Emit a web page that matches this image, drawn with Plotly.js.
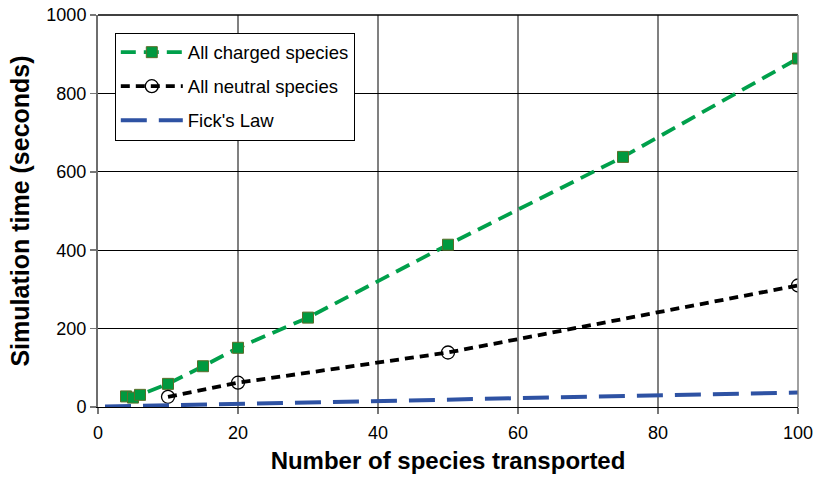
<!DOCTYPE html>
<html>
<head>
<meta charset="utf-8">
<script src="https://cdn.plot.ly/plotly-3.0.1.min.js"></script>
<style>
  html, body { margin: 0; padding: 0; background: #fff; }
  #chart { width: 815px; height: 482px; }
</style>
</head>
<body>
<div id="chart"></div>
<script>
// Number of transported species vs. run time for each transport model
const chargedX = [4, 5, 6, 10, 15, 20, 30, 50, 75, 100];
const chargedY = [27, 24, 31, 59, 104, 151, 228, 414, 638, 889];

const neutralX = [10, 20, 50, 100];
const neutralY = [26, 62, 139, 310];

const fickX = [1, 20, 50, 80, 100];
const fickY = [1, 8, 20, 31, 37];

const xTicks = [0, 20, 40, 60, 80, 100];
const yTicks = [0, 200, 400, 600, 800, 1000];

const font = 'Liberation Sans, Arial, sans-serif';

const traces = [
  {
    name: 'All charged species',
    legendgroup: 'a',
    x: chargedX, y: chargedY,
    mode: 'lines+markers',
    line: { color: '#00a04b', width: 3.8, dash: '15px,8px' },
    marker: { symbol: 'square', size: 11, color: '#00993f',
              line: { color: '#5a6e2a', width: 1 } }
  },
  {
    name: 'All neutral species',
    legendgroup: 'b',
    x: neutralX, y: neutralY,
    mode: 'lines+markers',
    line: { color: '#000000', width: 3.8, dash: '9px,6px' },
    marker: { symbol: 'circle', size: 13, color: 'rgba(255,255,255,0)',
              line: { color: '#000000', width: 1.3 } }
  },
  {
    name: "Fick's Law",
    legendgroup: 'c',
    x: fickX, y: fickY,
    mode: 'lines',
    line: { color: '#2e52a3', width: 4, dash: '26px,12px' }
  }
];

const layout = {
  width: 815, height: 482,
  margin: { l: 98, r: 17, t: 15, b: 75 },
  paper_bgcolor: '#ffffff',
  plot_bgcolor: '#ffffff',
  font: { family: font, size: 18, color: '#000' },
  showlegend: true,
  legend: {
    x: 0.024, y: 0.955, xanchor: 'left', yanchor: 'top',
    bgcolor: '#ffffff', bordercolor: '#000000', borderwidth: 1,
    font: { family: font, size: 18.5, color: '#000' },
    itemwidth: 62,
    entrywidth: 262, entrywidthmode: 'pixels',
    tracegroupgap: 7
  },
  xaxis: {
    range: [0, 100],
    tickvals: xTicks,
    ticktext: xTicks.map(String),
    ticks: 'outside', ticklen: 6, tickwidth: 1.5, tickcolor: '#777',
    ticklabelstandoff: 3,
    showgrid: true, gridcolor: '#808080', gridwidth: 1.5,
    zeroline: false,
    showline: true, linecolor: '#000', linewidth: 1,
    tickfont: { family: font, size: 18, color: '#000' },
    title: { text: 'Number of species transported', standoff: 10,
             font: { family: font, size: 24, color: '#000', weight: 'bold' } }
  },
  yaxis: {
    range: [0, 1000],
    tickvals: yTicks,
    ticktext: yTicks.map(String),
    ticks: 'outside', ticklen: 6, tickwidth: 1.5, tickcolor: '#777',
    showgrid: true, gridcolor: '#000000', gridwidth: 1,
    zeroline: false,
    showline: true, linecolor: '#6e6e6e', linewidth: 2,
    tickfont: { family: font, size: 18, color: '#000' },
    title: { text: 'Simulation time (seconds)', standoff: 10,
             font: { family: font, size: 25, color: '#000', weight: 'bold' } }
  },
  shapes: [
    { type: 'line', xref: 'paper', yref: 'paper', x0: 0, x1: 1, y0: 1, y1: 1,
      line: { color: '#000', width: 1.5 } },
    { type: 'line', xref: 'paper', yref: 'paper', x0: 1, x1: 1, y0: 0, y1: 1,
      line: { color: '#808080', width: 1.5 } }
  ]
};

Plotly.newPlot('chart', traces, layout, { displayModeBar: false, staticPlot: true });
</script>
</body>
</html>
